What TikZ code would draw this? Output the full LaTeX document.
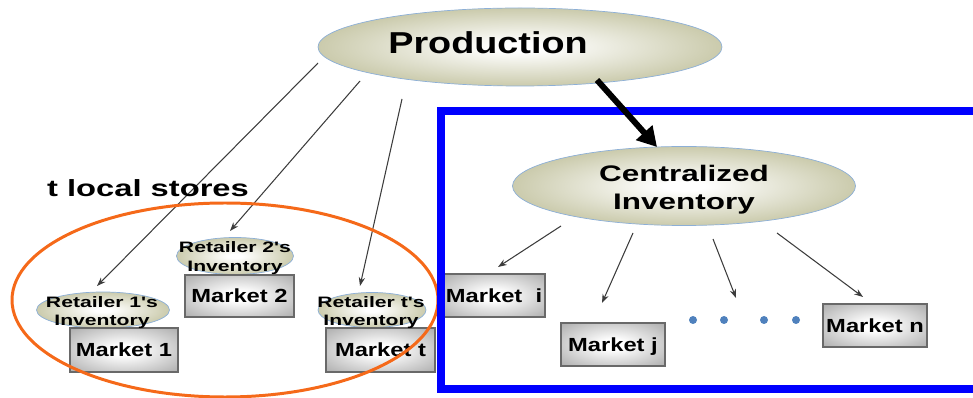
\documentclass[tikz,border=0pt]{standalone}
\usepackage{fontspec}
\usetikzlibrary{shapes.geometric,arrows.meta}
\newfontfamily\fw{Liberation Sans}[FakeStretch=1.25]
\newfontfamily\fx{Liberation Sans}[FakeStretch=1.4]
\definecolor{olivefill}{RGB}{186,186,146}
\definecolor{ovalrim}{RGB}{140,175,215}
\definecolor{mktgray}{RGB}{155,155,155}
\definecolor{mktrim}{RGB}{105,105,105}
\definecolor{storeorange}{RGB}{245,105,25}
\definecolor{dotblue}{RGB}{79,129,189}
\definecolor{linegray}{RGB}{60,60,60}
\definecolor{poolblue}{RGB}{0,0,255}
\pgfdeclareradialshading{ovalshade}{\pgfpoint{0bp}{0bp}}{color(0bp)=(white); color(3bp)=(white); color(32bp)=(olivefill); color(50bp)=(olivefill)}
\pgfdeclareradialshading{boxshade}{\pgfpoint{0bp}{0bp}}{color(0bp)=(white); color(6bp)=(white); color(42bp)=(mktgray); color(50bp)=(mktgray)}
\tikzset{
  oval/.style={ellipse, shading=ovalshade, draw=ovalrim, line width=0.4pt, inner sep=0pt},
  market/.style={rectangle, shading=boxshade, draw=mktrim, line width=0.8pt, inner sep=0pt,
    minimum height=43*0.02cm, font=\fw\bfseries\fontsize{10.8pt}{13pt}\selectfont,
    text height=7.75pt, text depth=0pt},
  retlabel/.style={font=\fx\bfseries\fontsize{8.6pt}{10.8pt}\selectfont, align=center, inner sep=0pt},
  thin/.style={linegray, line width=0.6pt, -{Stealth[length=5pt,width=3.6pt]}},
  bigarrow/.style={black, line width=3.4pt, -{Triangle[length=11pt,width=12pt]}},
  dot/.style={circle, fill=dotblue, inner sep=0pt, minimum size=8*0.02cm}
}
\begin{document}
\begin{tikzpicture}[x=0.02cm,y=-0.02cm]
\useasboundingbox (0,0) rectangle (973,398);
\clip (0,0) rectangle (973,398);

% arrows from production to the local stores
\coordinate (pa1s) at (318,63);  \coordinate (pa1e) at (97,286);
\coordinate (pa2s) at (360,81);  \coordinate (pa2e) at (230,231);
\coordinate (pa3s) at (402,99);  \coordinate (pa3e) at (360,286);
\draw[thin] (pa1s) -- (pa1e);
\draw[thin] (pa2s) -- (pa2e);
\draw[thin] (pa3s) -- (pa3e);

\node[font=\fx\bfseries\fontsize{13.3pt}{16pt}\selectfont, anchor=base, inner sep=0pt] (storestitle) at (148,197) {t local stores};

% retailers' inventories and their markets
\node[oval, minimum width=133*0.02cm, minimum height=36*0.02cm] (r1) at (103,310) {};
\node[oval, minimum width=117*0.02cm, minimum height=37*0.02cm] (r2) at (235,256) {};
\node[oval, minimum width=108*0.02cm, minimum height=35*0.02cm] (rt) at (372,310) {};
\node[market, minimum width=108*0.02cm, minimum height=44*0.02cm] (m1) at (124,350) {Market 1};
\node[market, minimum width=109*0.02cm, minimum height=42*0.02cm] (m2) at (239.5,296) {Market 2};
\node[market, minimum width=109*0.02cm, minimum height=44*0.02cm] (mt) at (380.5,350) {Market t};
\node[retlabel] (r1label) at (102,312.6) {Retailer 1's\\Inventory};
\node[retlabel] (r2label) at (235,258) {Retailer 2's\\Inventory};
\node[retlabel] (rtlabel) at (371,312.6) {Retailer t's\\Inventory};

\node[draw=storeorange, line width=1.7pt, ellipse, inner sep=0pt,
  minimum width=426*0.02cm, minimum height=194*0.02cm] (stores) at (225,300) {};

% pooled side
\node[market, minimum width=102*0.02cm] (mi) at (494,295.5) {Market\ \ i};
\draw[poolblue, line width=5.1pt] (441,111) rectangle (995,389);

\node[oval, minimum width=404*0.02cm, minimum height=78*0.02cm] (prod) at (520,47) {};
\node[font=\fw\bfseries\fontsize{17.2pt}{20pt}\selectfont, anchor=base, inner sep=0pt] (prodlabel) at (488,54) {Production};

\node[oval, minimum width=343*0.02cm, minimum height=79*0.02cm] (central) at (684,186) {};
\node[font=\fx\bfseries\fontsize{12.8pt}{15.9pt}\selectfont, align=center, inner sep=0pt] (centrallabel) at (684,190) {Centralized\\Inventory};

\coordinate (bas) at (597,80); \coordinate (bae) at (657,147);
\draw[bigarrow] (bas) -- (bae);

\node[market, minimum width=104*0.02cm] (mj) at (613,344.5) {Market j};
\node[market, minimum width=104*0.02cm] (mn) at (875,325.5) {Market n};

\coordinate (ca1s) at (561,226); \coordinate (ca1e) at (498,267);
\coordinate (ca2s) at (633,233); \coordinate (ca2e) at (602,303);
\coordinate (ca3s) at (713,239); \coordinate (ca3e) at (736,298);
\coordinate (ca4s) at (777,233); \coordinate (ca4e) at (863,297);
\draw[thin] (ca1s) -- (ca1e);
\draw[thin] (ca2s) -- (ca2e);
\draw[thin] (ca3s) -- (ca3e);
\draw[thin] (ca4s) -- (ca4e);

\node[dot] (d1) at (693,320) {};
\node[dot] (d2) at (724,320) {};
\node[dot] (d3) at (764,320) {};
\node[dot] (d4) at (796,320) {};
\end{tikzpicture}
\end{document}
